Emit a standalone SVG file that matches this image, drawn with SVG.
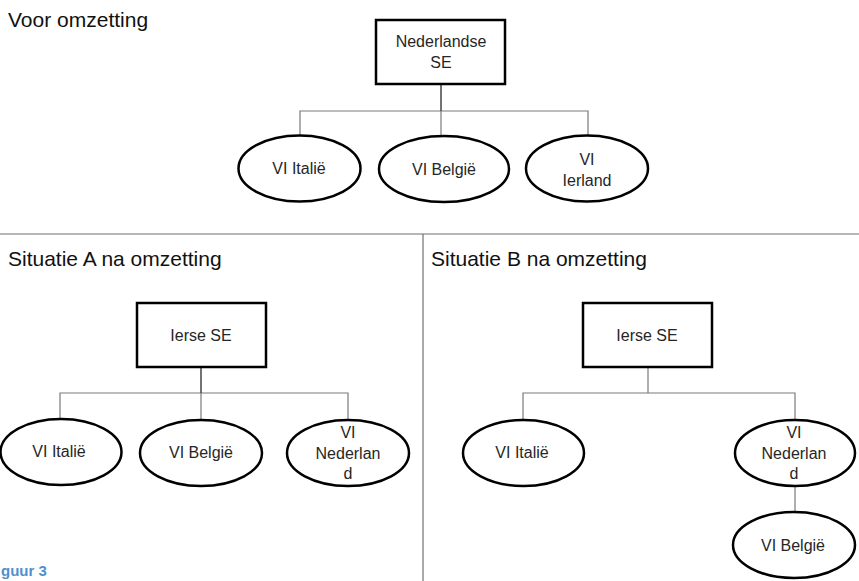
<svg xmlns="http://www.w3.org/2000/svg" width="859" height="581" viewBox="0 0 859 581">
<style>
.bg{fill:#fff}
.box{fill:#fff;stroke:#000;stroke-width:2.5}
.ell{fill:#fff;stroke:#000;stroke-width:2.5}
.lbl{font-family:"Liberation Sans",Arial,sans-serif;font-size:16px;fill:#262626;text-anchor:middle}
.title{font-family:"Liberation Sans",Arial,sans-serif;font-size:21px;fill:#111}
.con{fill:none;stroke:#7a7a7a;stroke-width:1.2}
.trunk{fill:none;stroke:#444;stroke-width:1.5}
.div{fill:none;stroke:#707070;stroke-width:1.2}
.cap{font-family:"Liberation Sans",Arial,sans-serif;font-size:15px;font-weight:bold;fill:#4f8fd0}
</style>
<rect class="bg" x="0" y="0" width="859" height="581"/>
<g id="dividers">
<line class="div" x1="0" y1="234" x2="859" y2="234"/>
<line class="div" x1="423" y1="234" x2="423" y2="581"/>
</g>
<g id="titles">
<text class="title" x="8" y="27">Voor omzetting</text>
<text class="title" x="8" y="266">Situatie A na omzetting</text>
<text class="title" x="431" y="266">Situatie B na omzetting</text>
<text class="cap" x="1" y="576">guur 3</text>
</g>
<g id="connectors">
<polyline class="con" points="300,137 300,111 588,111 588,137"/>
<line class="trunk" x1="441" y1="84" x2="441" y2="111"/>
<line class="con" x1="441" y1="111" x2="441" y2="137"/>
<polyline class="con" points="60,420 60,393 348,393 348,420"/>
<line class="trunk" x1="201" y1="367" x2="201" y2="393"/>
<line class="con" x1="201" y1="393" x2="201" y2="420"/>
<polyline class="con" points="523,420 523,393 795,393 795,420"/>
<line class="con" x1="648" y1="367" x2="648" y2="393"/>
<line class="con" x1="795" y1="486" x2="795" y2="512"/>
</g>
<g id="top-se">
<rect class="box" x="376" y="20" width="129" height="64"/>
<text class="lbl" x="441" y="47">Nederlandse</text>
<text class="lbl" x="441" y="68">SE</text>
</g>
<g id="top-italie">
<ellipse class="ell" cx="299.5" cy="168.5" rx="61" ry="33"/>
<text class="lbl" x="299" y="174">VI Italië</text>
</g>
<g id="top-belgie">
<ellipse class="ell" cx="444" cy="169" rx="65" ry="33"/>
<text class="lbl" x="444" y="175">VI België</text>
</g>
<g id="top-ierland">
<ellipse class="ell" cx="587" cy="168.5" rx="61" ry="33"/>
<text class="lbl" x="587" y="165">VI</text>
<text class="lbl" x="587" y="186">Ierland</text>
</g>
<g id="a-se">
<rect class="box" x="137" y="303" width="129" height="64"/>
<text class="lbl" x="201" y="341">Ierse SE</text>
</g>
<g id="a-italie">
<ellipse class="ell" cx="61" cy="452" rx="60.5" ry="33"/>
<text class="lbl" x="59" y="457">VI Italië</text>
</g>
<g id="a-belgie">
<ellipse class="ell" cx="201" cy="453" rx="61" ry="33"/>
<text class="lbl" x="201" y="458">VI België</text>
</g>
<g id="a-nederland">
<ellipse class="ell" cx="348" cy="453" rx="61" ry="33"/>
<text class="lbl" x="348" y="438">VI</text>
<text class="lbl" x="348" y="459">Nederlan</text>
<text class="lbl" x="348" y="479">d</text>
</g>
<g id="b-se">
<rect class="box" x="583" y="303" width="129" height="64"/>
<text class="lbl" x="647" y="341">Ierse SE</text>
</g>
<g id="b-italie">
<ellipse class="ell" cx="523.5" cy="453" rx="60.5" ry="33"/>
<text class="lbl" x="522" y="458">VI Italië</text>
</g>
<g id="b-nederland">
<ellipse class="ell" cx="795" cy="453" rx="60" ry="33"/>
<text class="lbl" x="794" y="438">VI</text>
<text class="lbl" x="794" y="459">Nederlan</text>
<text class="lbl" x="794" y="479">d</text>
</g>
<g id="b-belgie">
<ellipse class="ell" cx="794" cy="545" rx="61" ry="33"/>
<text class="lbl" x="793" y="551">VI België</text>
</g>
</svg>
